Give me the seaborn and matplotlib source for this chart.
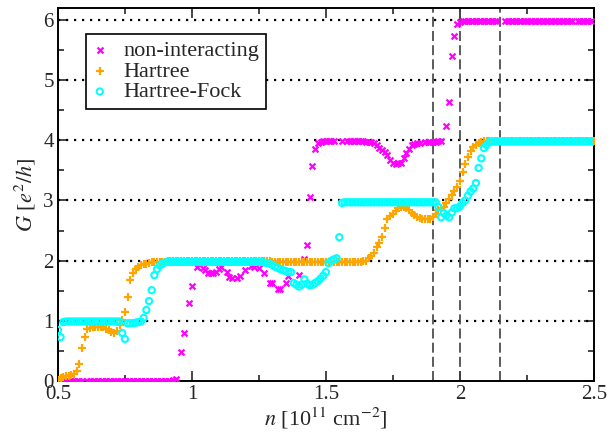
import numpy as np
import pandas as pd
import matplotlib
matplotlib.use("Agg")
import matplotlib.pyplot as plt
from matplotlib.markers import MarkerStyle
from matplotlib.ticker import MultipleLocator
import seaborn as sns

nan = np.nan

# density grid n [10^11 cm^-2]
n = np.round(np.arange(0.50, 2.505, 0.01), 2)

non_interacting = [
    0, 0, 0, 0, 0, 0, 0, 0, 0, 0,
    nan, 0, 0, 0, 0, 0, 0, 0, 0, 0,
    0, 0, 0, 0, 0, 0, 0, 0, 0, 0,
    0, 0, 0, 0, 0, 0, 0, 0, 0, 0,
    0, 0, 0, 0.01, 0.03, nan, 0.48, 0.8, nan, 1.3,
    1.58, nan, 1.9, nan, 1.88, 1.85, 1.8, 1.79, 1.79, 1.81,
    1.86, 1.9, nan, 1.81, 1.73, 1.71, nan, 1.71, 1.75, nan,
    1.84, nan, 1.91, 1.9, nan, 1.88, nan, 1.79, nan, 1.63,
    1.63, nan, 1.53, 1.53, nan, 1.63, 1.74, nan, nan, nan,
    1.76, nan, 2.03, 2.26, 3.06, 3.57, 3.85, 3.95, 3.97, 3.98,
    3.98, 3.98, 3.98, 3.98, nan, nan, 3.98, nan, 3.98, 3.98,
    3.98, 3.98, 3.98, 3.98, 3.98, 3.97, 3.97, 3.97, 3.96, 3.92,
    3.87, 3.84, 3.8, 3.75, 3.67, 3.63, 3.61, 3.62, 3.63, 3.7,
    3.79, 3.86, 3.92, 3.94, 3.95, 3.96, nan, 3.97, 3.97, 3.97,
    3.97, 3.97, 3.98, 3.98, nan, 4.24, 4.63, 5.4, 5.73, 5.93,
    5.97, 5.98, 5.98, 5.98, 5.98, 5.98, 5.98, 5.98, 5.98, 5.98,
    5.98, 5.98, 5.98, 5.98, 5.98, nan, nan, 5.98, 5.98, 5.98,
    5.98, 5.98, 5.98, 5.98, 5.98, 5.98, 5.98, 5.98, 5.98, 5.98,
    5.98, 5.98, 5.98, 5.98, 5.98, 5.98, 5.98, 5.98, 5.98, 5.98,
    5.98, 5.98, 5.98, nan, 5.98, 5.98, 5.98, 5.98, 5.98, 5.99,
    nan,
]

hartree = [
    0.02, 0.05, 0.07, 0.08, 0.08, 0.1, 0.12, 0.17, 0.28, 0.55,
    0.73, 0.86, 0.88, 0.9, 0.9, 0.9, 0.9, 0.89, 0.87, 0.85,
    0.82, 0.8, 0.84, 0.93, 1.01, 1.15, 1.4, 1.68, 1.8, 1.86,
    1.9, 1.92, 1.94, 1.95, 1.96, 1.97, 1.97, 1.98, 1.98, 1.98,
    1.98, 1.99, 1.99, 1.99, 1.99, 1.99, 1.99, 1.99, 1.99, 1.99,
    1.99, 1.99, 1.99, 1.99, 1.99, 1.99, 1.99, 1.99, 1.99, 1.99,
    1.99, 1.99, 1.99, 1.99, 1.99, 1.99, 1.99, 1.99, 1.99, 1.99,
    1.99, 1.99, 1.99, 1.99, 1.99, 1.99, 1.99, 1.99, 1.99, 1.99,
    1.98, 1.98, 1.98, 1.98, 1.98, 1.98, 1.98, 1.98, 1.98, 1.98,
    1.98, 1.98, 1.98, 1.98, 1.98, 1.98, 1.98, 1.98, 1.98, 1.98,
    1.98, 1.98, 1.98, 1.98, 1.98, 1.98, 1.98, 1.98, 1.98, 1.98,
    1.98, 1.98, 1.98, 1.98, 1.99, 2.0, 2.04, 2.08, 2.12, 2.23,
    2.3, 2.4, 2.55, 2.7, 2.74, 2.78, 2.82, 2.87, 2.89, 2.89,
    2.88, 2.84, 2.8, 2.76, 2.73, 2.71, 2.7, 2.69, 2.69, 2.7,
    2.72, 2.77, 2.84, 2.87, 2.89, 2.95, 3.02, 3.09, 3.15, 3.22,
    3.32, 3.48, 3.6, 3.73, 3.82, 3.89, 3.93, 3.96, 3.97, 3.98,
    3.99, 3.99, 3.99, 3.99, 3.99, 3.99, 3.99, 3.99, 3.99, 3.99,
    3.99, 3.99, 3.99, 3.99, 3.99, 3.99, 3.99, 3.99, 3.99, 3.99,
    3.99, 3.99, 3.99, 3.99, 3.99, 3.99, 3.99, 3.99, 3.99, 3.99,
    3.99, 3.99, 3.99, 3.99, 3.99, 3.99, 3.99, 3.99, 3.99, 3.99,
    3.99,
]

hartree_fock = [
    0.85, 0.73, 0.98, 0.99, 0.99, 0.99, 0.99, 0.99, 0.99, 0.99,
    0.99, 0.99, 0.99, 0.99, 0.99, 0.99, 0.99, 0.99, 0.99, 0.99,
    0.99, 0.99, 0.99, 0.99, 0.8, 0.7, 0.96, 0.96, 0.96, 0.97,
    0.98, 0.99, 1.05, 1.18, 1.33, 1.51, 1.76, 1.86, 1.92, 1.95,
    1.97, 1.98, 1.98, 1.98, 1.98, 1.98, 1.98, 1.98, 1.98, 1.98,
    1.98, 1.98, 1.98, 1.98, 1.98, 1.98, 1.98, 1.98, 1.98, 1.98,
    1.98, 1.98, 1.98, 1.98, 1.98, 1.98, 1.98, 1.98, 1.98, 1.98,
    1.98, 1.98, 1.98, 1.98, 1.98, 1.98, 1.98, 1.97, 1.96, 1.95,
    1.93, 1.9, 1.88, 1.86, 1.84, 1.83, 1.81, 1.81, 1.63, 1.6,
    1.57, 1.6, 1.69, 1.62, 1.59, 1.6, 1.63, 1.66, 1.7, 1.75,
    1.81, 1.96, 2.0, 2.02, 2.04, 2.39, 2.96, 2.97, 2.97, 2.97,
    2.97, 2.97, 2.97, 2.97, 2.97, 2.97, 2.97, 2.97, 2.97, 2.97,
    2.97, 2.97, 2.97, 2.97, 2.97, 2.97, 2.97, 2.97, 2.97, 2.97,
    2.97, 2.97, 2.97, 2.97, 2.97, 2.97, 2.97, 2.97, 2.97, 2.97,
    2.97, 2.97, 2.89, 2.72, 2.79, 2.75, 2.72, 2.8, 2.87, 2.87,
    2.9, 2.96, 3.0, 3.08, 3.15, 3.2, 3.29, 3.54, 3.7, 3.87,
    3.92, 3.97, 3.98, 3.98, 3.98, 3.98, 3.98, 3.98, 3.98, 3.98,
    3.98, 3.98, 3.98, 3.98, 3.98, 3.98, 3.98, 3.98, 3.98, 3.98,
    3.98, 3.98, 3.98, 3.98, 3.98, 3.98, 3.98, 3.98, 3.98, 3.98,
    3.98, 3.98, 3.98, 3.98, 3.98, 3.98, 3.98, 3.98, 3.98, 3.98,
    3.98,
]

series_names = ["non-interacting", "Hartree", "Hartree-Fock"]
vlines_n = [1.9, 2.0, 2.15]
hlines_G = [1, 2, 3, 4, 5, 6]

df = pd.DataFrame({
    "n": np.concatenate([n, n, n]),
    "G": np.concatenate([non_interacting, hartree, hartree_fock]),
    "model": np.repeat(series_names, len(n)),
})

sns.set_style("ticks")
plt.rcParams["font.family"] = ["Liberation Serif", "DejaVu Serif"]
plt.rcParams["mathtext.fontset"] = "stix"

fig = plt.figure(figsize=(6.16, 4.37), dpi=100)
ax = fig.add_axes([0.094, 0.128, 0.870, 0.854])

for y in hlines_G:
    ax.axhline(y, color="black", lw=1.6, linestyle=(0, (1, 2.6)), zorder=1)
for x in vlines_n:
    ax.axvline(x, color="#404040", lw=1.2, linestyle=(0, (6, 2.5)), zorder=1)

styles = {
    "non-interacting": dict(color="#FF00FF", marker="x", s=18, linewidth=1.6),
    "Hartree": dict(color="#FFA500", marker="+", s=26, linewidth=1.6),
    "Hartree-Fock": dict(color="#00FFFF", marker=MarkerStyle("o", fillstyle="none"),
                         s=20, linewidth=1.5),
}
for name in series_names:
    sub = df[df["model"] == name].dropna()
    sns.scatterplot(data=sub, x="n", y="G", ax=ax, label=name, zorder=3,
                    **styles[name])

ax.set_xlim(0.5, 2.5)
ax.set_ylim(0, 6.2)
ax.xaxis.set_minor_locator(MultipleLocator(0.25))
ax.yaxis.set_major_locator(MultipleLocator(1))
ax.yaxis.set_minor_locator(MultipleLocator(0.5))
ax.set_xticks([0.5, 1, 1.5, 2, 2.5])
ax.set_xticklabels(["0.5", "1", "1.5", "2", "2.5"])
ax.tick_params(which="both", direction="in", top=True, right=True,
               labelsize=15, width=1.2, pad=3)
ax.tick_params(which="major", length=7)
ax.tick_params(which="minor", length=4)
for sp in ax.spines.values():
    sp.set_linewidth(1.4)
    sp.set_color("black")

ax.set_xlabel(r"$n$ [10$^{11}$ cm$^{-2}$]", fontsize=16, labelpad=1)
ax.set_ylabel(r"$G$ [$e^2/h$]", fontsize=16, labelpad=4)

leg = ax.legend(loc="upper left", bbox_to_anchor=(0.052, 0.93), borderaxespad=0,
                fontsize=16, frameon=True, fancybox=False, framealpha=1,
                edgecolor="black", handletextpad=0.72, labelspacing=0.0,
                borderpad=0.3, handlelength=0.66, scatterpoints=1)
leg.get_frame().set_linewidth(1.2)

fig.savefig("out.png", dpi=100)
